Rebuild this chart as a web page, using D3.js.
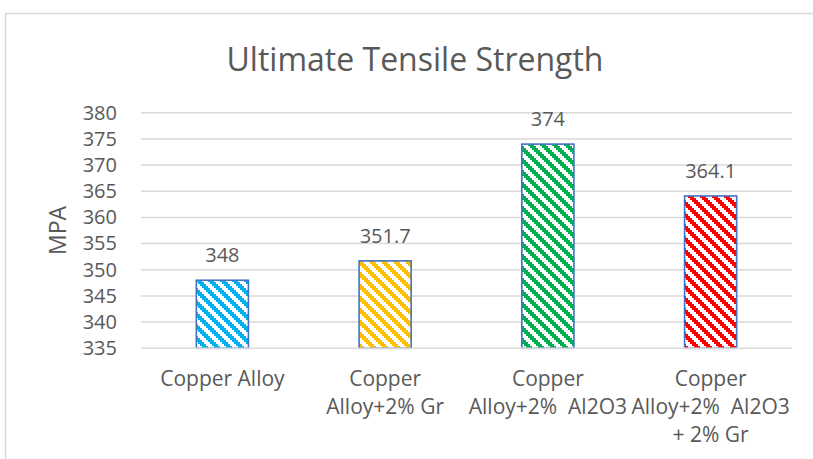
<!DOCTYPE html>
<html>
<head>
<meta charset="utf-8">
<script src="https://cdn.jsdelivr.net/npm/d3@7"></script>
<style>
  html, body { margin: 0; padding: 0; background: #ffffff; }
  svg { display: block; }
  text { font-family: "Open Sans", "DejaVu Sans", sans-serif; fill: #595959; }
</style>
</head>
<body>
<script>
// ---- Data ----
const categories = ["Copper Alloy", "Copper Alloy+2% Gr", "Copper Alloy+2%  Al2O3", "Copper Alloy+2%  Al2O3 + 2% Gr"];
const categoryLines = [
  ["Copper Alloy"],
  ["Copper", "Alloy+2% Gr"],
  ["Copper", "Alloy+2%  Al2O3"],
  ["Copper", "Alloy+2%  Al2O3", "+ 2% Gr"]
];
const values = [348, 351.7, 374, 364.1];
const valueLabels = ["348", "351.7", "374", "364.1"];
const barColors = ["#00B0F0", "#FFC000", "#00B050", "#FF0000"];
const yTicks = [335, 340, 345, 350, 355, 360, 365, 370, 375, 380];
const titleText = "Ultimate Tensile Strength";
const yAxisTitle = "MPA";

// ---- Layout ----
const W = 813, H = 459;
const plot = { left: 141, right: 792, top: 112.7, bottom: 348.3 };

const svg = d3.select("body").append("svg")
  .attr("width", W).attr("height", H);

// chart area border
svg.append("rect")
  .attr("x", 5.5).attr("y", 13.5)
  .attr("width", 1000).attr("height", 1000)
  .attr("fill", "#ffffff")
  .attr("stroke", "#d9d9d9").attr("stroke-width", 1.5);

// patterns (wide downward diagonal, blocky steps)
const defs = svg.append("defs");
const P = 12, STEP = 2, SW = 6;
barColors.forEach((c, i) => {
  const pat = defs.append("pattern")
    .attr("id", "pat" + i)
    .attr("patternUnits", "userSpaceOnUse")
    .attr("width", P).attr("height", P);
  pat.append("rect").attr("width", P).attr("height", P).attr("fill", "#ffffff");
  for (let r = 0; r < P; r += STEP) {
    pat.append("rect").attr("x", r).attr("y", r).attr("width", SW).attr("height", STEP)
      .attr("fill", c).attr("shape-rendering", "crispEdges");
    if (r + SW > P) {
      pat.append("rect").attr("x", r - P).attr("y", r).attr("width", SW).attr("height", STEP)
        .attr("fill", c).attr("shape-rendering", "crispEdges");
    }
  }
});

// scales
const x = d3.scaleBand().domain(categories)
  .range([plot.left, plot.right])
  .paddingInner(0.68).paddingOuter(0.34);
const y = d3.scaleLinear().domain([335, 380]).range([plot.bottom, plot.top]);

// gridlines
svg.append("g").selectAll("line")
  .data(yTicks.filter(t => t !== 335))
  .join("line")
  .attr("x1", plot.left).attr("x2", plot.right)
  .attr("y1", d => y(d)).attr("y2", d => y(d))
  .attr("stroke", "#d9d9d9").attr("stroke-width", 1.5);

// y axis labels
const yAxis = d3.axisLeft(y).tickValues(yTicks).tickSize(0).tickPadding(24)
  .tickFormat(d3.format("d"));
const gy = svg.append("g").attr("transform", `translate(${plot.left},0)`).call(yAxis);
gy.select(".domain").remove();
gy.selectAll("text")
  .style("font-family", '"Open Sans", sans-serif')
  .style("font-size", "20px")
  .attr("fill", "#595959");

// bars
svg.append("g").selectAll("rect")
  .data(categories)
  .join("rect")
  .attr("x", d => x(d))
  .attr("y", (d, i) => y(values[i]))
  .attr("width", x.bandwidth())
  .attr("height", (d, i) => y(335) - y(values[i]))
  .attr("fill", (d, i) => `url(#pat${i})`)
  .attr("stroke", "#4472C4").attr("stroke-width", 1.6);

// x axis line
svg.append("line")
  .attr("x1", plot.left).attr("x2", plot.right)
  .attr("y1", y(335)).attr("y2", y(335))
  .attr("stroke", "#d9d9d9").attr("stroke-width", 1.5);

// data labels
svg.append("g").selectAll("text")
  .data(categories)
  .join("text")
  .attr("x", d => x(d) + x.bandwidth() / 2)
  .attr("y", (d, i) => y(values[i]) - 18)
  .attr("text-anchor", "middle")
  .style("font-size", "20px")
  .text((d, i) => valueLabels[i]);

// category labels
const xAxis = d3.axisBottom(x).tickSize(0).tickFormat("");
const gx = svg.append("g").attr("transform", `translate(0,${y(335)})`).call(xAxis);
gx.select(".domain").remove();
gx.selectAll(".tick").each(function(d, i) {
  const t = d3.select(this).append("text")
    .attr("text-anchor", "middle")
    .attr("fill", "#595959")
    .attr("xml:space", "preserve")
    .style("white-space", "pre")
    .style("font-family", '"Open Sans", sans-serif')
    .style("font-size", "21px");
  categoryLines[i].forEach((ln, j) => {
    t.append("tspan").attr("x", 0).attr("y", 38 + j * 28).text(ln);
  });
});

// axis title
svg.append("text")
  .attr("transform", `translate(66,${(plot.top + plot.bottom) / 2}) rotate(-90)`)
  .attr("text-anchor", "middle")
  .style("font-size", "23px")
  .text(yAxisTitle);

// chart title
svg.append("text")
  .attr("x", 415).attr("y", 71)
  .attr("text-anchor", "middle")
  .style("font-size", "32px")
  .text(titleText);
</script>
</body>
</html>
